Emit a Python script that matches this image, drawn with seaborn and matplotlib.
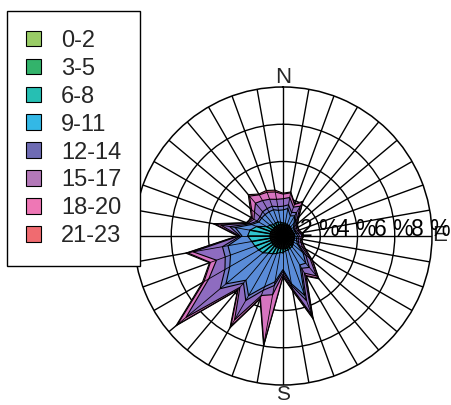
import numpy as np
import matplotlib
matplotlib.use("Agg")
import matplotlib.pyplot as plt
from matplotlib.patches import Patch
import seaborn as sns

sns.set_theme(style="white")
plt.rcParams['font.family'] = ['Liberation Sans', 'DejaVu Sans']

# wind directions (degrees from N, clockwise)
directions = np.arange(0, 360, 10)

hours = ["0-2", "3-5", "6-8", "9-11", "12-14", "15-17", "18-20", "21-23"]

# frequency (%) per direction for each hour group
h00_02 = [0.25, 0.25, 0.25, 0.25, 0.25, 0.25, 0.25, 0.25, 0.25, 0.25, 0.25, 0.25,
          0.25, 0.30, 0.30, 0.30, 0.30, 0.30, 0.30, 0.30, 0.30, 0.30, 0.30, 0.30,
          0.30, 0.30, 0.30, 0.30, 0.30, 0.30, 0.30, 0.30, 0.30, 0.30, 0.30, 0.30]
h03_05 = [0.35, 0.35, 0.35, 0.35, 0.35, 0.30, 0.30, 0.30, 0.35, 0.35, 0.35, 0.35,
          0.35, 0.35, 0.35, 0.35, 0.40, 0.40, 0.40, 0.40, 0.40, 0.40, 0.40, 0.40,
          0.40, 0.40, 0.40, 0.40, 0.40, 0.40, 0.35, 0.35, 0.35, 0.35, 0.35, 0.35]
h06_08 = [0.10, 0.10, 0.05, 0.05, 0.03, 0.03, 0.03, 0.03, 0.03, 0.03, 0.03, 0.03,
          0.05, 0.05, 0.10, 0.10, 0.10, 0.10, 0.20, 0.20, 0.30, 0.40, 0.50, 0.70,
          0.80, 0.90, 1.00, 1.20, 1.10, 0.80, 0.35, 0.25, 0.15, 0.15, 0.15, 0.10]
h09_11 = [0.70, 0.80, 0.50, 0.60, 0.30, 0.15, 0.10, 0.10, 0.10, 0.15, 0.10, 0.15,
          0.25, 0.70, 1.15, 1.05, 2.60, 1.80, 0.90, 1.60, 1.90, 2.60, 1.90, 2.60,
          1.80, 1.40, 1.30, 0.30, 0.80, 0.30, 0.50, 0.60, 0.70, 0.70, 0.70, 0.65]
h12_14 = [0.20, 0.20, 0.20, 0.20, 0.10, 0.10, 0.05, 0.05, 0.10, 0.10, 0.10, 0.10,
          0.10, 0.20, 0.30, 0.20, 0.30, 0.10, 0.10, 0.20, 0.20, 0.30, 0.20, 0.40,
          0.30, 0.30, 0.30, 0.10, 0.30, 0.10, 0.10, 0.10, 0.20, 0.20, 0.20, 0.20]
h15_17 = [0.40, 0.40, 0.30, 0.40, 0.15, 0.10, 0.10, 0.10, 0.10, 0.15, 0.10, 0.15,
          0.20, 0.30, 0.60, 0.30, 0.80, 0.15, 0.15, 0.50, 0.30, 1.20, 0.30, 2.40,
          1.00, 0.50, 1.60, 0.05, 0.50, 0.10, 0.20, 0.40, 0.60, 0.50, 0.40, 0.40]
h18_20 = [0.25, 0.25, 0.15, 0.25, 0.10, 0.07, 0.07, 0.07, 0.07, 0.07, 0.07, 0.07,
          0.15, 0.15, 0.15, 0.15, 0.15, 0.10, 0.10, 2.70, 0.15, 0.40, 0.15, 0.60,
          0.30, 0.35, 0.30, 0.05, 0.30, 0.05, 0.10, 0.20, 0.50, 0.35, 0.40, 0.40]
h21_23 = [0.05, 0.05, 0.05, 0.05, 0.05, 0.03, 0.03, 0.03, 0.03, 0.03, 0.03, 0.03,
          0.05, 0.05, 0.05, 0.05, 0.10, 0.05, 0.05, 0.10, 0.05, 0.10, 0.05, 0.10,
          0.10, 0.05, 0.10, 0.05, 0.10, 0.05, 0.05, 0.10, 0.10, 0.05, 0.10, 0.10]

series = [h00_02, h03_05, h06_08, h09_11, h12_14, h15_17, h18_20, h21_23]

legend_colors = ["#99CC66", "#33B36B", "#26BFB3", "#33B8E6",
                 "#6E6BB3", "#B378B8", "#EE77B5", "#F06B70"]
# as they come out in the rose (inner groups are buried under the outlines)
fill_colors = ["#101010", "#1A1A1A", "#30C5CF", "#5A8CD8",
               "#7279C8", "#8E6CC0", "#D874C0", "#E86A88"]
sns.set_palette(legend_colors)

radii = [2, 4, 6, 8]
radius_labels = ["2 %", "4 %", "6 %", "8 %"]

fig = plt.figure(figsize=(4.52, 4.05), dpi=100)
ax = fig.add_axes([134 / 452, 20 / 405, 298 / 452, 298 / 405], projection="polar")
ax.set_theta_zero_location("N")
ax.set_theta_direction(-1)
ax.set_ylim(0, 8)
ax.set_facecolor("white")
ax.set_axisbelow(True)

ax.set_thetagrids(np.arange(0, 360, 10), labels=[])
ax.set_rgrids([2, 4, 6], labels=[])
ax.grid(True, color="black", linewidth=1.0)
ax.spines["polar"].set_color("black")
ax.spines["polar"].set_linewidth(1.1)
ax.tick_params(axis="both", length=0)

theta = np.deg2rad(directions)
theta_closed = np.append(theta, theta[0])
cum = np.cumsum(np.array(series), axis=0)

# outermost layer first, inner layers on top
for k in range(len(series) - 1, -1, -1):
    r = np.append(cum[k], cum[k][0])
    ax.fill(theta_closed, r, facecolor=fill_colors[k], edgecolor="black",
            linewidth=0.8, zorder=3 + (len(series) - k) * 0.1)

# radial edges of each direction
for t, rt in zip(theta, cum[-1]):
    ax.plot([t, t], [0, rt], color="black", linewidth=0.6, zorder=4)
for t, rt in zip(theta, cum[2]):
    ax.plot([t, t], [0, rt], color="black", linewidth=1.1, zorder=4)

for r, lab in zip(radii, radius_labels):
    ax.text(np.pi / 2, r - 0.05, lab, ha="center", va="baseline", fontsize=16.5,
            color="black", zorder=6)

ax.text(0, 7.95, "N", ha="center", va="bottom", fontsize=16, clip_on=False)
ax.text(np.pi / 2, 8.0, "E", ha="left", va="center", fontsize=16, clip_on=False)
ax.text(np.pi, 8.0, "S", ha="center", va="top", fontsize=15, clip_on=False)

handles = [Patch(facecolor=c, edgecolor="black", linewidth=0.8) for c in legend_colors]
leg = fig.legend(handles, hours, loc="upper left",
                 bbox_to_anchor=(7 / 452, 1 - 11 / 405), fontsize=17,
                 frameon=True, fancybox=False, framealpha=1, edgecolor="black",
                 handlelength=0.64, handleheight=0.64, handletextpad=0.85,
                 labelspacing=0.25, borderpad=0.8, borderaxespad=0)
leg.get_frame().set_linewidth(1.0)
leg.set_zorder(10)

fig.savefig("out.png", dpi=100)
